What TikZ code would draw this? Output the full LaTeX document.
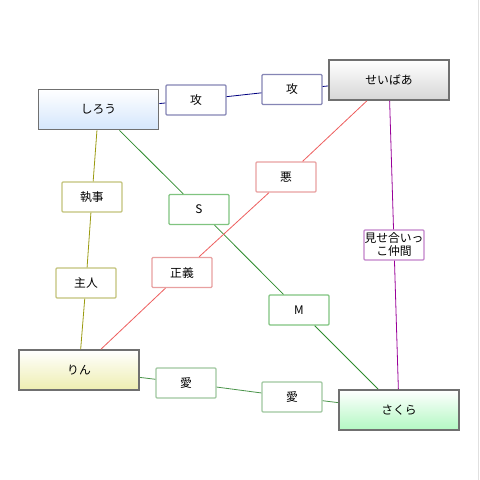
\documentclass[tikz,border=0pt]{standalone}
\usepackage{fontspec}
\setmainfont{Noto Sans CJK JP}

\definecolor{boxgray}{HTML}{707070}
\definecolor{shiroufill}{HTML}{D4E6FC}
\definecolor{saberfill}{HTML}{D6D6D6}
\definecolor{rinfill}{HTML}{EEEEB0}
\definecolor{sakurafill}{HTML}{B2F8C2}
\definecolor{atkline}{HTML}{000080}
\definecolor{atkbox}{HTML}{8585B5}
\definecolor{oliveline}{HTML}{9A9A10}
\definecolor{olivebox}{HTML}{C2C27A}
\definecolor{smline}{HTML}{2E8B2E}
\definecolor{smbox}{HTML}{80C480}
\definecolor{redline}{HTML}{EE5F5F}
\definecolor{redbox}{HTML}{E8A0A0}
\definecolor{purpline}{HTML}{990099}
\definecolor{purpbox}{HTML}{C282CA}
\definecolor{loveline}{HTML}{4A944A}
\definecolor{lovebox}{HTML}{9FC79F}

\tikzset{
  person/.style={rectangle, draw=boxgray, line width=1.8pt, top color=white,
    bottom color=#1, minimum width=120pt, minimum height=40pt, inner sep=0pt},
  tag/.style={rectangle, draw=#1, fill=white, line width=1.3pt, rounded corners=1pt,
    minimum width=60pt, minimum height=30pt, inner sep=0pt, align=center},
  link/.style={draw=#1, line width=0.8pt}
}

\begin{document}
\begin{tikzpicture}[x=1pt,y=-1pt,font=\fontsize{11.8}{13}\selectfont]
\useasboundingbox[fill=white] (0,0) rectangle (480,480);
\draw[black!12, line width=1pt] (478.5,0) -- (478.5,480);

% characters
\node[person=shiroufill] (shirou) at (98.5,109.5) {しろう};
\node[person=saberfill] (saber) at (389,80) {せいばあ};
\node[person=rinfill] (rin) at (79,370) {りん};
\node[person=sakurafill] (sakura) at (399,410) {さくら};

% relation labels
\node[tag=atkbox] (atk1) at (196,100) {攻};
\node[tag=atkbox] (atk2) at (292,89.5) {攻};
\node[tag=olivebox] (butler) at (92,197) {執事};
\node[tag=olivebox] (master) at (86,283) {主人};
\node[tag=smbox] (sside) at (199,209.5) {S};
\node[tag=smbox] (mside) at (299,310) {M};
\node[tag=redbox] (evil) at (286,177) {悪};
\node[tag=redbox] (justice) at (182,272.5) {正義};
\node[tag=purpbox] (peers) at (394,245) {見せ合いっ\\こ仲間};
\node[tag=lovebox] (love1) at (186,383) {愛};
\node[tag=lovebox] (love2) at (292,397) {愛};

\draw[link=atkline] (shirou) -- (atk1) -- (atk2) -- (saber);
\draw[link=oliveline] (shirou) -- (butler) -- (master) -- (rin);
\draw[link=smline] (shirou) -- (sside) -- (mside) -- (sakura);
\draw[link=redline] (saber) -- (evil) -- (justice) -- (rin);
\draw[link=purpline] (saber) -- (peers) -- (sakura);
\draw[link=loveline] (rin) -- (love1) -- (love2) -- (sakura);

\end{tikzpicture}
\end{document}
